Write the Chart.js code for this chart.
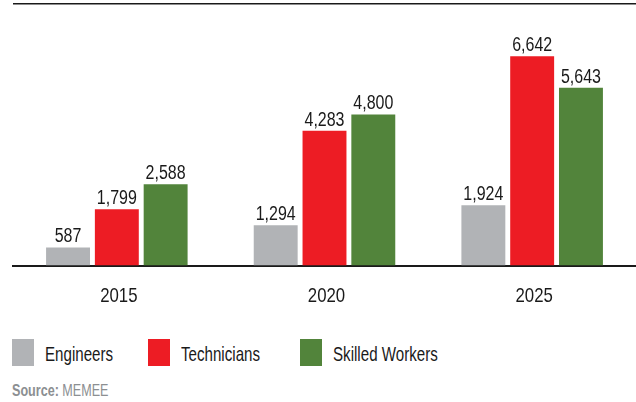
<!DOCTYPE html>
<html>
<head>
<meta charset="utf-8">
<script src="https://cdn.jsdelivr.net/npm/chart.js@4.4.1/dist/chart.umd.min.js"></script>
<style>
  html, body { margin: 0; padding: 0; background: #fff; }
  body { width: 636px; height: 402px; position: relative; overflow: hidden;
         font-family: "Liberation Sans", Arial, sans-serif; }
  #wrap { position: absolute; left: 0; top: 0; width: 636px; height: 320px; }
  .item { position: absolute; top: 339px; height: 27px; }
  .box { position: absolute; left: 0; top: 0; width: 22px; height: 27px; }
  .lbl { position: absolute; left: 33px; top: 1px; font-size: 21px; line-height: 27px; color: #1a1a1a;
         white-space: nowrap; transform: scaleX(0.72); transform-origin: 0 50%; }
  #source { position: absolute; left: 12px; top: 381px; font-size: 17px; color: #8c8f92; white-space: nowrap;
            transform: scaleX(0.74); transform-origin: 0 50%; }
</style>
</head>
<body>
<div id="wrap"><canvas id="chart"></canvas></div>
<div id="legend"></div>
<div id="source"><b>Source:</b> MEMEE</div>
<script>
const years = ['2015', '2020', '2025'];
const seriesNames = ['Engineers', 'Technicians', 'Skilled Workers'];
const engineers = [587, 1294, 1924];
const technicians = [1799, 4283, 6642];
const skilledWorkers = [2588, 4800, 5643];
const colores = ['#b1b3b6', '#ed1c24', '#52843b'];
const yMax = 8300;

const fuente = '"Liberation Sans", Arial, sans-serif';
const estrecho = 0.8; // la fuente original es condensada

function textoEstrecho(ctx, txt, x, y) {
    ctx.save();
    ctx.translate(x, y);
    ctx.scale(estrecho, 1);
    ctx.fillText(txt, 0, 0);
    ctx.restore();
}

// etiquetas de valor encima de cada barra y años debajo del eje
const etiquetas = {
    id: 'etiquetas',
    afterDatasetsDraw(chart) {
        const ctx = chart.ctx;
        ctx.save();
        ctx.fillStyle = '#1a1a1a';
        ctx.textAlign = 'center';
        ctx.textBaseline = 'alphabetic';
        ctx.font = '20px ' + fuente;
        chart.data.datasets.forEach((ds, i) => {
            chart.getDatasetMeta(i).data.forEach((bar, j) => {
                textoEstrecho(ctx, ds.data[j].toLocaleString('en-US'), bar.x, bar.y - 5);
            });
        });
        const x = chart.scales.x;
        ctx.font = '21px ' + fuente;
        x.ticks.forEach((t, i) => {
            textoEstrecho(ctx, chart.data.labels[i], x.getPixelForTick(i) + 2, x.top + 36);
        });
        ctx.restore();
    }
};

const ctx = document.getElementById('chart').getContext('2d');
const grafico = new Chart(ctx, {
    type: 'bar',
    data: {
        labels: years,
        datasets: [engineers, technicians, skilledWorkers].map((d, i) => ({
            label: seriesNames[i],
            data: d,
            backgroundColor: colores[i],
            categoryPercentage: 0.705,
            barPercentage: 0.9
        }))
    },
    options: {
        responsive: true,
        maintainAspectRatio: false,
        animation: false,
        layout: { padding: { left: 13, top: 4, right: 0, bottom: 0 } },
        plugins: { legend: { display: false }, tooltip: { enabled: false } },
        scales: {
            x: {
                grid: { display: false, drawTicks: false },
                border: { display: true, color: '#1a1a1a', width: 2 },
                ticks: { display: false },
                afterFit: axis => { axis.height = 54; }
            },
            y: {
                min: 0,
                max: yMax,
                afterBuildTicks: axis => { axis.ticks = [{ value: 0 }, { value: yMax }]; },
                ticks: { display: false },
                border: { display: false },
                grid: {
                    drawTicks: false,
                    lineWidth: 1.5,
                    color: c => c.tick && c.tick.value === yMax ? '#1a1a1a' : 'rgba(0,0,0,0)'
                }
            }
        }
    },
    plugins: [etiquetas]
});

const posLeyenda = [12, 148, 300];
document.getElementById('legend').innerHTML = seriesNames.map((n, i) => `
    <div class="item" style="left:${posLeyenda[i]}px"><div class="box" style="background:${colores[i]}"></div><span class="lbl">${n}</span></div>
`).join('');
</script>
</body>
</html>
